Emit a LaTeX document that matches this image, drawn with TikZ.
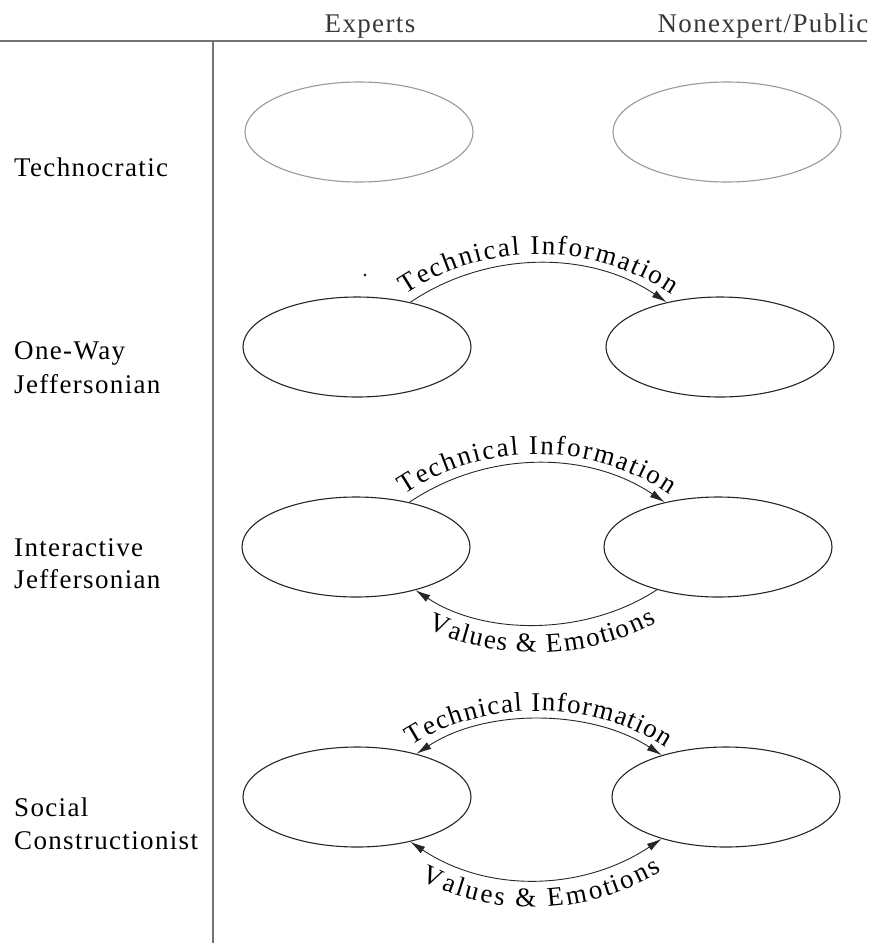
\documentclass[tikz,border=0pt]{standalone}
\usepackage{fontspec}
\setmainfont{Liberation Serif}
\newfontfamily\lblfont[LetterSpace=5]{Liberation Serif}
\usetikzlibrary{arrows.meta,decorations.text,shapes.geometric}
\newcommand\curvefont{\fontsize{27}{30}\selectfont}
\tikzset{
  blob/.style={ellipse, draw=black!85, line width=1.1pt, minimum width=228pt, minimum height=100pt, inner sep=0pt},
  greyblob/.style={blob, draw=black!40},
  rowlabel/.style={anchor=base west, font=\lblfont\fontsize{27}{33}\selectfont, inner sep=0pt},
  colhead/.style={anchor=base, font=\lblfont\fontsize{27}{30}\selectfont, text=black!78, inner sep=0pt},
  rule/.style={line width=1.3pt, draw=black!55},
  link/.style={line width=0.9pt, draw=black!85},
  tip/.style={-{Latex[length=15pt,width=8pt]}},
  both/.style={{Latex[length=15pt,width=8pt]}-{Latex[length=15pt,width=8pt]}},
  toptext/.style={decorate, decoration={text along path, text={|\curvefont|#1}, text align=fit to path, raise=9pt}},
  bottext/.style={decorate, decoration={text along path, text={|\curvefont|#1}, text align={fit to path, left indent=26pt, right indent=16pt}, raise=-28pt}}
}
\begin{document}
\begin{tikzpicture}[x=1pt,y=-1pt]
\useasboundingbox (0,0) rectangle (892,943);

% grid lines
\coordinate (hl) at (0,41);
\coordinate (hr) at (867,41);
\coordinate (vt) at (213,41);
\coordinate (vb) at (213,943);
\draw[rule] (hl) -- (hr);
\draw[rule] (vt) -- (vb);

% column heads
\node[colhead] (hexp) at (370,32) {Experts};
\node[colhead] (hpub) at (763,32) {Nonexpert/Public};

% row labels
\node[rowlabel] (l1) at (14,176) {Technocratic};
\node[rowlabel] (l2a) at (14,359) {One-Way};
\node[rowlabel] (l2b) at (14,393) {Jeffersonian};
\node[rowlabel] (l3a) at (14,556) {Interactive};
\node[rowlabel] (l3b) at (14,588) {Jeffersonian};
\node[rowlabel] (l4a) at (14,816) {Social};
\node[rowlabel] (l4b) at (14,849) {Constructionist};

% Technocratic
\node[greyblob] (tL) at (359,132) {};
\node[greyblob] (tR) at (727,132) {};

% One-Way Jeffersonian
\node[blob] (oL) at (357,347) {};
\node[blob] (oR) at (720,347) {};
\fill[black!80] (365,275) circle (1.6pt);
\draw[link,tip] (oL.40) .. controls +(77,-52) and +(-77,-52) .. (oR.140);
\path[toptext={Technical Information}] (oL.40) .. controls +(77,-52) and +(-77,-52) .. (oR.140);

% Interactive Jeffersonian
\node[blob] (iL) at (356,547) {};
\node[blob] (iR) at (718,547) {};
\draw[link,tip] (iL.40) .. controls +(77,-52) and +(-77,-52) .. (iR.140);
\path[toptext={Technical Information}] (iL.40) .. controls +(77,-52) and +(-77,-52) .. (iR.140);
\draw[link,tip] (iR.215) .. controls +(-70,46) and +(70,46) .. (iL.-36);
\path[bottext={Values {\&} Emotions}] (iL.-36) .. controls +(70,46) and +(-70,46) .. (iR.215);

% Social Constructionist
\node[blob] (sL) at (357,797) {};
\node[blob] (sR) at (726,797) {};
\draw[link,both] (sL.36) .. controls +(70,-46) and +(-70,-46) .. (sR.147);
\path[toptext={Technical Information}] (sL.36) .. controls +(70,-46) and +(-70,-46) .. (sR.147);
\draw[link,both] (sL.-40) .. controls +(78,52) and +(-78,52) .. (sR.213);
\path[bottext={Values {\&} Emotions}] (sL.-40) .. controls +(78,52) and +(-78,52) .. (sR.213);
\end{tikzpicture}
\end{document}
